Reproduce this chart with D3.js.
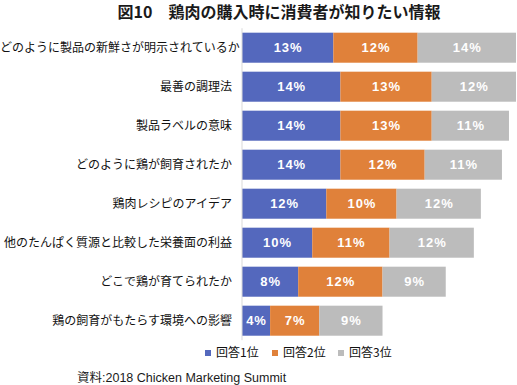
<!DOCTYPE html>
<html lang="ja">
<head>
<meta charset="UTF-8">
<title>図10 鶏肉の購入時に消費者が知りたい情報</title>
<script src="https://cdn.jsdelivr.net/npm/d3@7"></script>
<style>
  body { margin: 0; background: #fff; }
  svg { font-family: "Noto Sans CJK JP", "Noto Sans", sans-serif; }
  .val { font-family: "Liberation Sans", Arial, sans-serif; font-weight: bold; fill: #fff; font-size: 13px; letter-spacing: 1px; }
  .src { font-family: "Liberation Sans", Arial, "Noto Sans CJK JP", sans-serif; }
</style>
</head>
<body>
<svg id="chart" width="517" height="385"></svg>
<script>
// data
var categories = [
  "どのように製品の新鮮さが明示されているか",
  "最善の調理法",
  "製品ラベルの意味",
  "どのように鶏が飼育されたか",
  "鶏肉レシピのアイデア",
  "他のたんぱく質源と比較した栄養面の利益",
  "どこで鶏が育てられたか",
  "鶏の飼育がもたらす環境への影響"
];
var rank1 = [13, 14, 14, 14, 12, 10, 8, 4];
var rank2 = [12, 13, 13, 12, 10, 11, 12, 7];
var rank3 = [14, 12, 11, 11, 12, 12, 9, 9];
var seriesNames = ["回答1位", "回答2位", "回答3位"];
var colors = ["#5468bd", "#e0813a", "#bcbcbc"];

var svg = d3.select("#chart");
var x0 = 242;

var rows = categories.map(function (c, i) {
  return { cat: c, v: [rank1[i], rank2[i], rank3[i]] };
});

var x = d3.scaleLinear().domain([0, 39]).range([x0, 516]);
var y = d3.scaleBand().domain(categories).range([28.2, 340.2]).paddingInner(0.23).paddingOuter(0.115);

// title
svg.append("text")
  .attr("x", 279).attr("y", 18)
  .attr("text-anchor", "middle")
  .style("font-size", "16px").style("font-weight", "bold").style("fill", "#1a1a1a")
  .text("図10\u3000鶏肉の購入時に消費者が知りたい情報");

// stacked segments
var stack = d3.stack().keys([0, 1, 2]).value(function (d, k) { return d.v[k]; });
var layers = stack(rows);

var g = svg.append("g");
layers.forEach(function (layer, k) {
  var lg = g.append("g");
  lg.selectAll("rect").data(layer).enter().append("rect")
    .attr("x", function (d) { return x(d[0]); })
    .attr("width", function (d) { return x(d[1]) - x(d[0]); })
    .attr("y", function (d) { return y(d.data.cat); })
    .attr("height", y.bandwidth())
    .attr("fill", colors[k]);
  lg.selectAll("text").data(layer).enter().append("text")
    .attr("class", "val")
    .attr("x", function (d) { return (x(d[0]) + x(d[1])) / 2 + 0.5; })
    .attr("y", function (d) { return y(d.data.cat) + y.bandwidth() / 2; })
    .attr("dy", "0.36em")
    .attr("text-anchor", "middle")
    .text(function (d) { return d.data.v[k] + "%"; });
});

// axis line
svg.append("line")
  .attr("x1", x0).attr("x2", x0)
  .attr("y1", y.range()[0]).attr("y2", y.range()[1])
  .attr("stroke", "#d9d9d9").attr("stroke-width", 1);

// category labels
var labels = svg.append("g").selectAll("text").data(categories).enter().append("text")
  .attr("x", 232)
  .attr("y", function (d) { return y(d) + y.bandwidth() / 2; })
  .attr("dy", "0.35em")
  .attr("text-anchor", "end")
  .style("font-size", "12px").style("fill", "#111")
  .text(function (d) { return d; });
labels.each(function () {
  var w = this.getComputedTextLength();
  if (w > 232) d3.select(this).attr("x", 0).attr("text-anchor", "start");
});

// legend
var legendX = [205, 272, 338];
var lgd = svg.append("g").selectAll("g").data(seriesNames).enter().append("g")
  .attr("transform", function (d, i) { return "translate(" + legendX[i] + ",353)"; });
lgd.append("rect").attr("x", 0).attr("y", -3).attr("width", 6).attr("height", 6)
  .attr("fill", function (d, i) { return colors[i]; });
lgd.append("text").attr("x", 11).attr("dy", "0.35em")
  .style("font-size", "12px").style("fill", "#111")
  .text(function (d) { return d; });

// source
svg.append("text")
  .attr("class", "src")
  .attr("x", 77).attr("y", 378).attr("dy", "0.35em")
  .style("font-size", "12.5px").style("fill", "#1a1a1a")
  .text("資料:2018 Chicken Marketing Summit");
</script>
</body>
</html>
